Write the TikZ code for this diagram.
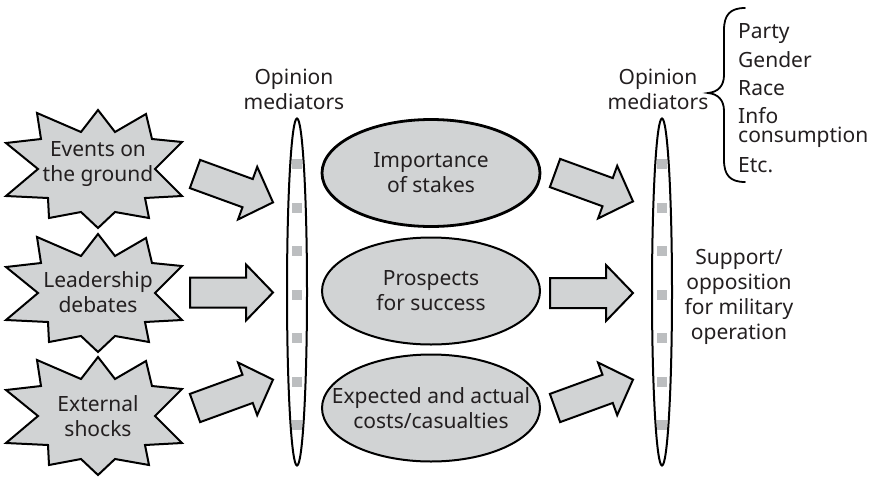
\documentclass[tikz,border=0pt]{standalone}
\usepackage{fontspec}
\setmainfont{Noto Sans}
\usetikzlibrary{shapes.geometric}
\definecolor{lgray}{HTML}{D1D3D4}
\definecolor{sqgray}{HTML}{BCBEC0}
\definecolor{txt}{HTML}{231F20}
\newcommand\burst[1]{%
  \begin{scope}[shift={(#1)}]
  \draw[burststyle] (0,-59) -- (17,-37) -- (48,-55) -- (54,-30) -- (84,-27) -- (57,0) -- (84,27) -- (47,29) -- (51,49) -- (17,43) -- (0,59) -- (-17,43) -- (-49,49) -- (-50,29) -- (-92,27) -- (-60,0) -- (-92,-26) -- (-57,-30) -- (-61,-56) -- (-17,-37) -- cycle;
  \end{scope}}
\newcommand\barrow[2]{%
  \begin{scope}[shift={(#1)},rotate=#2]
  \draw[arrowstyle] (0,-15) -- (56,-15) -- (56,-28) -- (83,0) -- (56,28) -- (56,15) -- (0,15) -- cycle;
  \end{scope}}
\begin{document}
\begin{tikzpicture}[x=1pt,y=-1pt,
  font=\fontsize{21}{25}\selectfont, text=txt,
  burststyle/.style={fill=lgray,draw=black,line width=2pt,line join=miter,miter limit=20},
  arrowstyle/.style={fill=lgray,draw=black,line width=2pt,line join=miter},
  lbl/.style={align=center,inner sep=0pt},
  thinell/.style={ellipse,draw=black,line width=2pt,minimum width=20pt,minimum height=347pt,inner sep=0pt},
  bigell/.style={ellipse,draw=black,fill=lgray,line width=2pt,minimum width=218pt,minimum height=107pt,inner sep=0pt},
  sq/.style={fill=sqgray,minimum size=10pt,inner sep=0pt},
  item/.style={anchor=base west,inner sep=0pt}]
\useasboundingbox (0,0) rectangle (870,477);

% stars
\coordinate (s1) at (98,169);
\coordinate (s2) at (98,293);
\coordinate (s3) at (98,416);
\burst{s1}\burst{s2}\burst{s3}
\node[lbl] (t1) at (98,164) {Events on\\the ground};
\node[lbl] (t2) at (98,292) {Leadership\\debates};
\node[lbl] (t3) at (98,416) {External\\shocks};

% left arrows
\coordinate (la1) at (195,174);
\coordinate (la2) at (190,292.5);
\coordinate (la3) at (195,408);
\barrow{la1}{-20}\barrow{la2}{0}\barrow{la3}{20}

% thin ellipses
\node[thinell] (m1) at (297,292) {};
\node[thinell] (m2) at (662,292) {};
\foreach \i in {0,...,6}{
  \node[sq] (qa\i) at (297,{164+43.5*\i}) {};
  \node[sq] (qb\i) at (662,{164+43.5*\i}) {};
}
\node[lbl] (om1) at (294,89.5) {Opinion\\mediators};
\node[lbl] (om2) at (658,89.5) {Opinion\\mediators};

% big ellipses
\node[bigell,line width=2.8pt] (e1) at (431,173) {};
\node[bigell] (e2) at (431,291) {};
\node[bigell] (e3) at (431,408) {};
\node[lbl] (et1) at (e1) {Importance\\of stakes};
\node[lbl] (et2) at (e2) {Prospects\\for success};
\node[lbl] (et3) at (e3) {Expected and actual\\costs/casualties};

% right arrows
\coordinate (ra1) at (555,173);
\coordinate (ra2) at (550,293);
\coordinate (ra3) at (555,408);
\barrow{ra1}{-20}\barrow{ra2}{0}\barrow{ra3}{20}

% brace
\draw[line width=1.8pt,line cap=round] (745,8) .. controls (730,8) and (724,15) .. (724,30) -- (724,75) .. controls (724,86) and (718,92) .. (708,93) .. controls (718,94) and (724,100) .. (724,111) -- (724,160) .. controls (724,175) and (730,182) .. (745,182);
\node[item] (i1) at (738,38) {Party};
\node[item] (i2) at (738,67) {Gender};
\node[item] (i3) at (738,95) {Race};
\node[item] (i4) at (738,123) {Info};
\node[item] (i5) at (738,142) {consumption};
\node[item] (i6) at (738,172) {Etc.};

\node[lbl] (sup) at (739,297) {Support/\\opposition\\for military\\operation};
\end{tikzpicture}
\end{document}
